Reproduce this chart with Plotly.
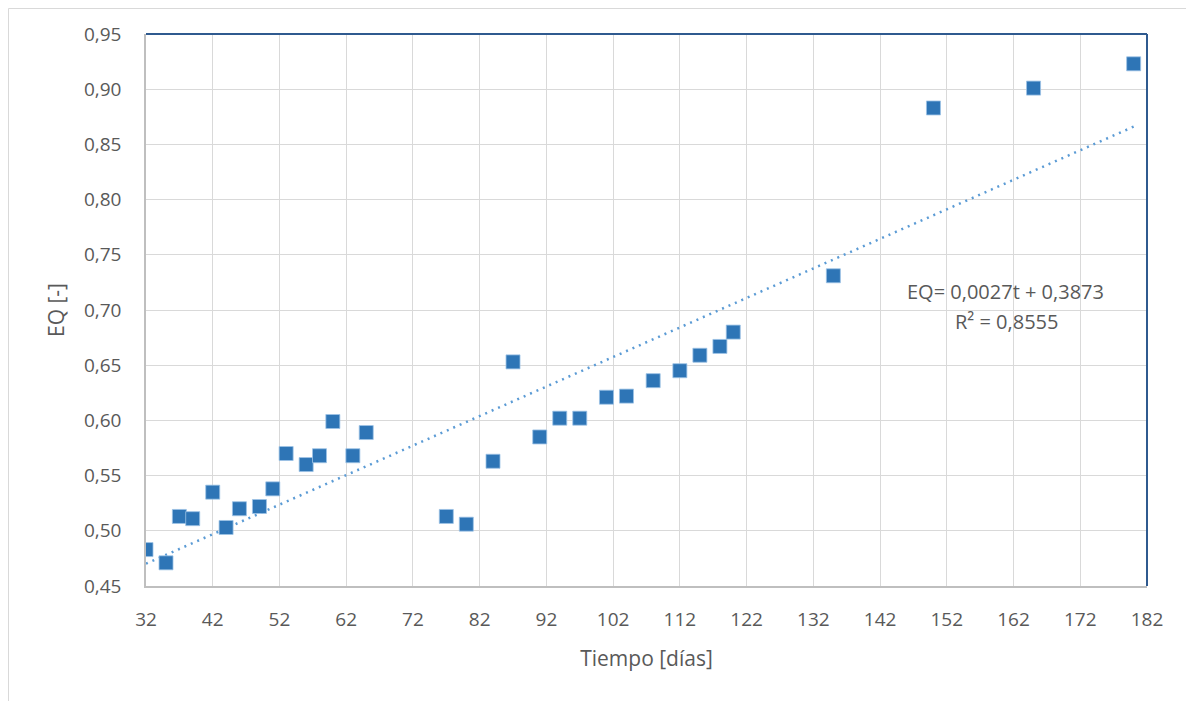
import numpy as np
import plotly.graph_objects as go

tiempo = [32, 35, 37, 39, 42, 44, 46, 49, 51, 53, 56, 58, 60, 63, 65,
          77, 80, 84, 87, 91, 94, 97, 101, 104, 108, 112, 115, 118, 120,
          135, 150, 165, 180]
eq = [0.483, 0.471, 0.513, 0.511, 0.535, 0.503, 0.520, 0.522, 0.538, 0.570,
      0.560, 0.568, 0.599, 0.568, 0.589,
      0.513, 0.506, 0.563, 0.653, 0.585, 0.602, 0.602, 0.621, 0.622, 0.636,
      0.645, 0.659, 0.667, 0.680,
      0.731, 0.883, 0.901, 0.923]

x_ticks = list(range(32, 183, 10))
y_ticks = [0.45, 0.50, 0.55, 0.60, 0.65, 0.70, 0.75, 0.80, 0.85, 0.90, 0.95]
eq_text = "EQ= 0,0027t + 0,3873"
r2_text = "R² = 0,8555"

slope, intercept = np.polyfit(tiempo, eq, 1)
trend_x = [min(tiempo), max(tiempo)]
trend_y = [slope * v + intercept for v in trend_x]

font_fam = "Open Sans"
txt_col = "#595959"

# figure geometry (page has an 8px body margin)
W, H = 1186, 693
L, R, T, B = 138, 47, 26, 115
pw, ph = W - L - R, H - T - B


def px2paper(x, y):
    return (x - L) / pw, (H - B - y) / ph


fig = go.Figure()
fig.add_trace(go.Scatter(
    x=trend_x, y=trend_y, mode="lines",
    line=dict(color="#5B9BD5", width=2.5, dash="2px,5px"),
    hoverinfo="skip", showlegend=False))
fig.add_trace(go.Scatter(
    x=tiempo, y=eq, mode="markers",
    marker=dict(symbol="square", size=14, color="#2E75B6",
                line=dict(color="#9DC3E6", width=0.8)),
    showlegend=False))

ax, ay = px2paper(997, 283)
fig.add_annotation(x=ax, y=ay, xref="paper", yref="paper", text=eq_text,
                   xanchor="center", yanchor="middle",
                   showarrow=False, font=dict(family=font_fam, size=20, color=txt_col))
ax, ay = px2paper(998, 313)
fig.add_annotation(x=ax, y=ay, xref="paper", yref="paper", text=r2_text,
                   xanchor="center", yanchor="middle",
                   showarrow=False, font=dict(family=font_fam, size=20, color=txt_col))

# outer chart border
x0, y0 = px2paper(0.5, 0.5)
x1, y1 = px2paper(1182, 720)
fig.add_shape(type="rect", xref="paper", yref="paper", x0=x0, y0=y1, x1=x1, y1=y0,
              line=dict(color="#D9D9D9", width=1), layer="below")
# top and right dark frame
fig.add_shape(type="line", xref="paper", yref="paper", x0=0, y0=1, x1=1, y1=1,
              line=dict(color="#2F5A8F", width=2))
fig.add_shape(type="line", xref="paper", yref="paper", x0=1, y0=0, x1=1, y1=1,
              line=dict(color="#2F5A8F", width=2))

fig.update_layout(
    width=W, height=H,
    margin=dict(l=L, r=R, t=T, b=B),
    paper_bgcolor="white", plot_bgcolor="white",
    separators=",.",
    font=dict(family=font_fam, color=txt_col, size=18),
    xaxis=dict(range=[32, 182], tickvals=x_ticks, ticktext=[str(v) for v in x_ticks],
               showgrid=True, gridcolor="#D9D9D9", gridwidth=1,
               showline=True, linecolor="#BFBFBF", linewidth=1.5,
               zeroline=False, ticks="", ticklabelstandoff=15,
               title=dict(text="Tiempo [días]", font=dict(size=21, color=txt_col), standoff=21),
               tickfont=dict(size=19, color=txt_col)),
    yaxis=dict(range=[0.45, 0.95], tickvals=y_ticks, tickformat=".2f",
               showgrid=True, gridcolor="#D9D9D9", gridwidth=1,
               showline=True, linecolor="#BFBFBF", linewidth=1.5,
               zeroline=False, ticks="", ticklabelstandoff=19,
               title=dict(text="EQ [-]", font=dict(size=21, color=txt_col), standoff=14),
               tickfont=dict(size=19, color=txt_col)),
)

fig.write_html("out.html")
